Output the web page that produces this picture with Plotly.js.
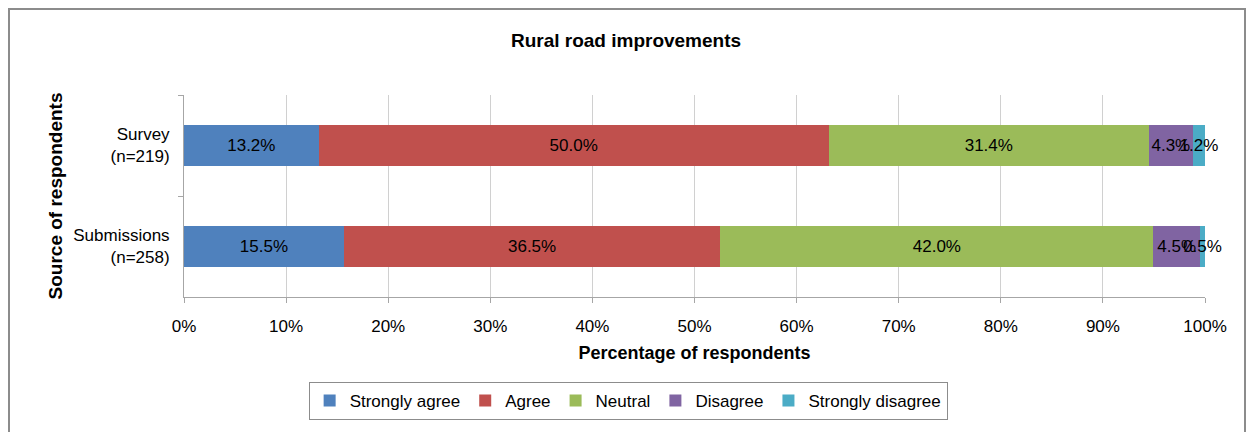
<!DOCTYPE html>
<html>
<head>
<meta charset="utf-8">
<script src="https://cdn.plot.ly/plotly-3.0.1.min.js"></script>
<style>
  html, body { margin: 0; padding: 0; background: #fff; }
  #wrap { position: relative; width: 1252px; height: 432px; }
  #chart { position: absolute; left: 0; top: 0; width: 1252px; height: 432px; }
  #frame { position: absolute; left: 8px; top: 8px; width: 1238px; height: 440px;
           border: 2px solid #8c8c8c; pointer-events: none; box-sizing: border-box; }
</style>
</head>
<body>
<div id="wrap">
  <div id="chart"></div>
  <div id="frame"></div>
</div>
<script>
const categories = ["Survey<br>(n=219)", "Submissions<br>(n=258)"];
const seriesNames = ["Strongly agree", "Agree", "Neutral", "Disagree", "Strongly disagree"];
const stronglyAgree = [13.2, 15.5];
const agree = [50.0, 36.5];
const neutral = [31.4, 42.0];
const disagree = [4.3, 4.5];
const stronglyDisagree = [1.2, 0.5];
const xTickValues = [0, 10, 20, 30, 40, 50, 60, 70, 80, 90, 100];
const colors = ["#4F81BD", "#C0504D", "#9BBB59", "#8064A2", "#4BACC6"];

const seriesValues = [stronglyAgree, agree, neutral, disagree, stronglyDisagree];
const FONT = 'Liberation Sans, Arial, sans-serif';

const traces = seriesValues.map((vals, i) => ({
  type: 'bar',
  orientation: 'h',
  name: seriesNames[i],
  y: categories,
  x: vals,
  text: vals.map(v => v.toFixed(1) + '%'),
  textposition: 'inside',
  insidetextanchor: 'middle',
  textangle: 0,
  constraintext: 'none',
  cliponaxis: false,
  textfont: { color: '#000', size: 17, family: FONT },
  marker: { color: colors[i], line: { width: 0 } },
  hoverinfo: 'skip'
}));

const layout = {
  width: 1252, height: 432,
  margin: { l: 184, r: 47, t: 95, b: 129 },
  paper_bgcolor: '#fff', plot_bgcolor: '#fff',
  font: { family: FONT, size: 17, color: '#000' },
  barmode: 'stack',
  barnorm: 'percent',
  bargap: 0.6,
  uniformtext: { mode: 'show', minsize: 17 },
  showlegend: true,
  title: {
    text: '<b>Rural road improvements</b>',
    font: { size: 19, family: FONT, color: '#000' },
    x: 0.5, xref: 'container', xanchor: 'center',
    y: 0.907, yref: 'container', yanchor: 'middle'
  },
  xaxis: {
    range: [0, 100],
    tickvals: xTickValues,
    ticktext: xTickValues.map(v => v + '%'),
    showgrid: true, gridcolor: '#d0d0d0', gridwidth: 1,
    zeroline: false,
    showline: true, linecolor: '#a6a6a6', linewidth: 1,
    ticks: 'outside', ticklen: 5, tickcolor: '#a6a6a6',
    tickfont: { size: 17 },
    ticklabelstandoff: 9,
    fixedrange: true,
    title: { text: '<b>Percentage of respondents</b>', font: { size: 18 }, standoff: 10 }
  },
  yaxis: {
    autorange: 'reversed',
    type: 'category',
    showgrid: false, zeroline: false,
    showline: true, linecolor: '#a6a6a6', linewidth: 1,
    ticks: 'outside', tickson: 'boundaries', ticklen: 5, tickcolor: '#a6a6a6',
    tickfont: { size: 17 },
    ticklabelstandoff: 10,
    fixedrange: true,
    title: { text: '<b>Source of respondents</b>', font: { size: 19 }, standoff: 5 }
  },
  legend: {
    orientation: 'h',
    x: 0.435, xanchor: 'center',
    y: -0.42, yanchor: 'top',
    bordercolor: '#8c8c8c', borderwidth: 1,
    font: { size: 17 },
    itemwidth: 30,
    traceorder: 'normal'
  }
};

Plotly.newPlot('chart', traces, layout, { displayModeBar: false, staticPlot: true });
</script>
</body>
</html>
